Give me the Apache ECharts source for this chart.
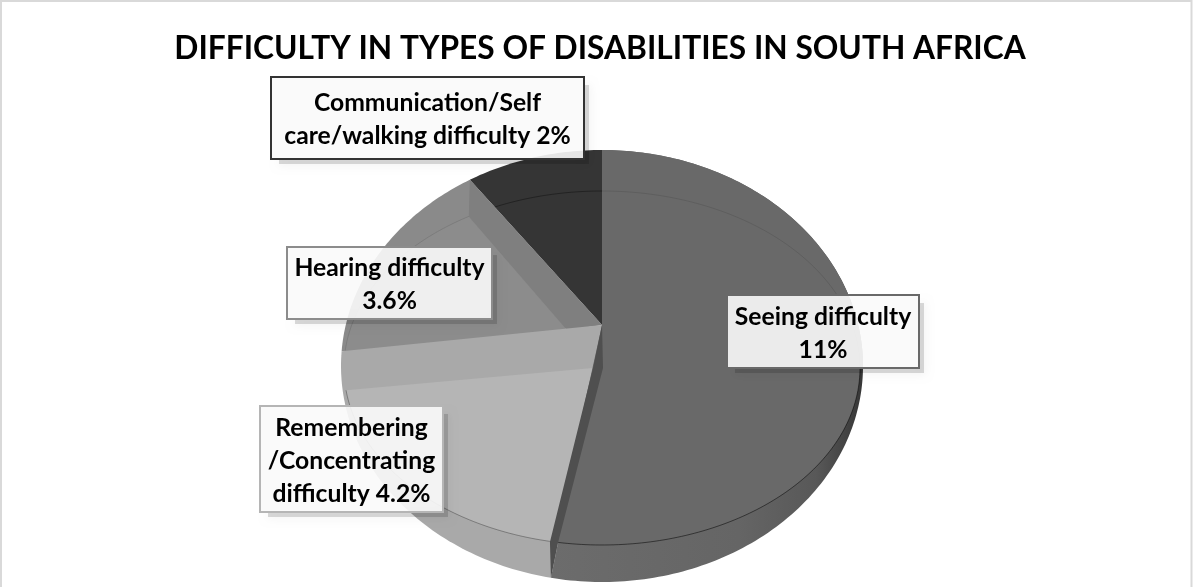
<!DOCTYPE html>
<html>
<head>
<meta charset="utf-8">
<style>html,body{margin:0;padding:0;background:#fff}#chart{width:1193px;height:587px}</style>
<script src="https://cdn.jsdelivr.net/npm/echarts@6/dist/echarts.min.js"></script>
</head>
<body>
<div id="chart"></div>
<script>
// Prevalence by type of difficulty, in percent.
const categories = [
  'Seeing difficulty',
  'Remembering /Concentrating difficulty',
  'Hearing difficulty',
  'Communication/Self care/walking difficulty'
];
const shares = [11, 4.2, 3.6, 2];
const wrappedNames = [
  'Seeing difficulty\n',
  'Remembering\n/Concentrating\ndifficulty ',
  'Hearing difficulty\n',
  'Communication/Self\ncare/walking difficulty '
];

// Projected disc: silhouette and upper-face rim, each with the point its
// slice edges radiate from and the foreshortening that varies around it.
const outline = { cx: 602, cy: 366, rx: 261, ry: 216, hub: [602, 325], k0: 1.22, k1: 0.12 };
const rim = { cx: 602, cy: 368, rx: 258, ry: 177, hub: [602, 368], k0: 1.38, k1: -0.13 };
const hub = outline.hub;
const outlineSeam = 101;
const rimSeam = 90;

const sliceLooks = [
  { top: '#696969', cut: '#4f4f4f', rimBack: 0.1, rimFront: 0.5 },
  { base: '#a9a9a9', top: '#b5b5b5', face: [-9, 43], rimFront: 0.3 },
  { base: '#8a8a8a', top: '#8c8c8c', wall: '#7f7f7f', face: [-35, 5], rimFront: 0.1 },
  { base: '#353535', rimFront: 0.35 }
];
const boxLooks = [
  { x: 727, y: 295, w: 192, h: 73, border: '#696969' },
  { x: 260, y: 406, w: 183, h: 106, border: '#b5b5b5' },
  { x: 287, y: 247, w: 205, h: 72, border: '#8c8c8c' },
  { x: 271, y: 77, w: 313, h: 82, border: '#333333' }
];

const total = shares.reduce((a, b) => a + b, 0);
const startAngles = shares.map((_, i) =>
  shares.slice(0, i).reduce((a, b) => a + b, 0) / total * 360);

// Where the ray leaving an ellipse's hub at a clockwise angle meets it.
function onEllipse(e, deg) {
  const t = deg * Math.PI / 180;
  const k = e.k0 + e.k1 * Math.cos(t);
  const dx = k * Math.sin(t), dy = -Math.cos(t);
  const ox = (e.hub[0] - e.cx) / e.rx, oy = (e.hub[1] - e.cy) / e.ry;
  const ux = dx / e.rx, uy = dy / e.ry;
  const a = ux * ux + uy * uy, b = 2 * (ox * ux + oy * uy), c = ox * ox + oy * oy - 1;
  const s = (-b + Math.sqrt(b * b - 4 * a * c)) / (2 * a);
  return [e.hub[0] + s * dx, e.hub[1] + s * dy];
}
function arc(e, from, to) {
  const n = Math.max(2, Math.ceil(Math.abs(to - from)));
  const pts = [];
  for (let i = 0; i <= n; i++) pts.push(onEllipse(e, from + (to - from) * i / n));
  return pts;
}
const offset = (o) => [hub[0] + o[0], hub[1] + o[1]];
const polygon = (points, fill) => ({ type: 'polygon', shape: { points }, style: { fill, stroke: null } });
const rimLine = (points, alpha) => ({
  type: 'polyline', shape: { points },
  style: { fill: null, stroke: 'rgba(0,0,0,' + alpha + ')', lineWidth: 1 }
});

function renderSlice(params, api) {
  const share = api.value(0), start = api.value(1), idx = api.value(2);
  const end = start + share / total * 360;
  const look = sliceLooks[idx];
  const kids = [];
  if (idx === 0) {
    // The largest slice shows the shaded outer wall along its front edge.
    const wallFill = new echarts.graphic.LinearGradient(0, 0, 1, 0, [
      { offset: 0, color: '#6c6c6c' },
      { offset: 0.6, color: '#656565' },
      { offset: 0.85, color: '#585858' },
      { offset: 1, color: '#363636' }
    ]);
    kids.push(polygon([hub].concat(arc(outline, start, end)), wallFill));
    kids.push(polygon([hub].concat(arc(outline, start, outlineSeam), arc(rim, rimSeam, end)), look.top));
    kids.push(rimLine(arc(rim, start, rimSeam), look.rimBack));
    kids.push(rimLine(arc(rim, rimSeam, end), look.rimFront));
    const rimEnd = onEllipse(rim, end), outEnd = onEllipse(outline, end);
    kids.push(polygon([
      hub, offset(sliceLooks[1].face), [rimEnd[0] - 4, rimEnd[1]], outEnd,
      [rimEnd[0] + 4, rimEnd[1] + 1], [hub[0] + 1, hub[1] + 43]
    ], look.cut));
  } else {
    kids.push(polygon([hub].concat(arc(outline, start, end)), look.base));
    if (look.top) {
      const face = offset(look.face);
      kids.push(polygon([face].concat(arc(rim, start, end)), look.top));
      if (look.wall) {
        kids.push(polygon([onEllipse(outline, end), onEllipse(rim, end), face, hub], look.wall));
      }
    }
    kids.push(rimLine(arc(rim, start, end), look.rimFront));
  }
  return { type: 'group', children: kids };
}

// Callout boxes sit above the disc, each outlined in its slice's grey. The
// drop shadow is an L-shaped strip so it does not darken the translucent fill.
const callouts = shares.flatMap((v, i) => {
  const b = boxLooks[i];
  const r = b.x + b.w, u = b.y + b.h;
  return [
    {
      type: 'polygon', z: 9, silent: true,
      shape: { points: [[b.x + 8, u + 1], [r + 1, u + 1], [r + 1, b.y + 8], [r + 5, b.y + 8], [r + 5, u + 5], [b.x + 8, u + 5]] },
      style: { fill: 'rgba(0,0,0,0.14)', shadowBlur: 10, shadowColor: 'rgba(0,0,0,0.6)' }
    },
    {
      type: 'rect', z: 10, silent: true,
      shape: { x: b.x, y: b.y, width: b.w, height: b.h },
      style: { fill: 'rgba(250,250,250,0.9)', stroke: b.border, lineWidth: 2 }
    },
    {
      type: 'text', z: 11, silent: true,
      x: b.x + b.w / 2, y: b.y + b.h / 2 + 2,
      style: {
        text: wrappedNames[i] + v + '%', align: 'center', verticalAlign: 'middle',
        font: 'bold 24.7px Lato', lineHeight: 33, fill: '#000'
      }
    }
  ];
});

const chart = echarts.init(document.getElementById('chart'), null, { renderer: 'canvas' });
chart.setOption({
  animation: false,
  backgroundColor: '#ffffff',
  title: {
    text: 'DIFFICULTY IN TYPES OF DISABILITIES IN SOUTH AFRICA',
    left: 595, top: 28, textAlign: 'center',
    textStyle: { fontFamily: 'Lato', fontWeight: 'bold', fontSize: 31.7, color: '#000' }
  },
  series: [{
    type: 'custom',
    coordinateSystem: 'none',
    silent: true,
    z: 2,
    renderItem: renderSlice,
    dimensions: ['share', 'start', 'index'],
    data: [3, 2, 1, 0].map((i) => ({ name: categories[i], value: [shares[i], startAngles[i], i] }))
  }],
  graphic: {
    elements: [{
      type: 'rect', z: 0, silent: true,
      shape: { x: 1, y: 1, width: 1190.5, height: 600 },
      style: { fill: null, stroke: '#d9d9d9', lineWidth: 2 }
    }].concat(callouts)
  }
});
</script>
</body>
</html>
